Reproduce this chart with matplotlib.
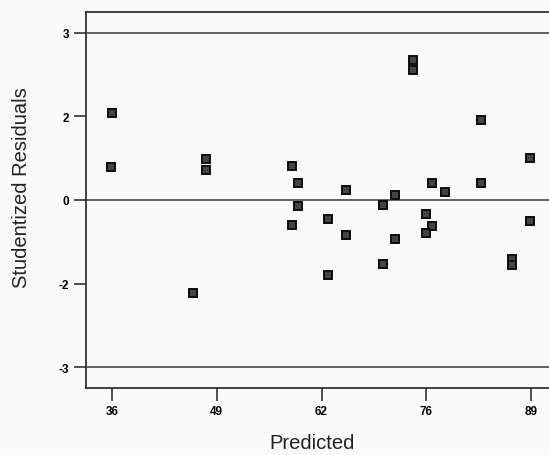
import matplotlib.pyplot as plt
import numpy as np

plt.rcParams['font.family'] = ['Liberation Sans', 'DejaVu Sans']

# predicted values and studentized residuals for each run
predicted = np.array([
    35.86, 35.77, 47.71, 47.71, 46.14, 58.54, 59.30, 65.42, 59.30, 63.08,
    58.54, 65.42, 63.08, 73.86, 73.86, 76.26, 77.82, 71.60, 70.01, 75.43,
    76.26, 75.43, 71.60, 70.01, 82.39, 88.61, 82.36, 88.61, 86.26, 86.26])
residuals = np.array([
    1.555, 0.600, 0.738, 0.541, -1.675, 0.613, 0.308, 0.176, -0.111, -0.344,
    -0.444, -0.623, -1.347, 2.517, 2.325, 0.308, 0.140, 0.081, -0.081, -0.254,
    -0.469, -0.587, -0.695, -1.150, 1.442, 0.761, 0.308, -0.373, -1.066, -1.168])

xticks = [35.9, 49.1, 62.3, 75.5, 88.7]
xtick_labels = ['36', '49', '62', '76', '89']
yticks = [-3, -1.5, 0, 1.5, 3]
ytick_labels = ['-3', '-2', '0', '2', '3']
limits = [-3, 0, 3]

fig = plt.figure(figsize=(5.49, 4.56), dpi=100, facecolor='#fafafa')
ax = fig.add_axes([86 / 549, 67 / 456, 474 / 549, 376 / 456])
ax.set_facecolor('#fafafa')

for v in limits:
    ax.axhline(v, color='#3a3a3a', lw=1.1, zorder=1)

ax.plot(predicted, residuals, 's', ms=6, mfc='#444444', mec='#0d0d0d',
        mew=1.4, zorder=3)

ax.set_xlim(32.62, 92.35)
ax.set_ylim(-3.37, 3.37)
ax.set_xticks(xticks)
ax.set_xticklabels(xtick_labels)
ax.set_yticks(yticks)
ax.set_yticklabels(ytick_labels)
ax.tick_params(direction='out', length=9, width=1.1, color='#222222',
               labelsize=8.5, pad=3)
for lbl in ax.get_xticklabels() + ax.get_yticklabels():
    lbl.set_fontweight('bold')

for s in ax.spines.values():
    s.set_linewidth(1.2)
    s.set_color('#222222')

fig.text(22 / 549, 1 - 188 / 456, 'Studentized Residuals', rotation=90,
         ha='center', va='center', fontsize=14.5, color='#222222')
fig.text(312 / 549, 1 - 444 / 456, 'Predicted', ha='center', va='center',
         fontsize=14.5, color='#222222')

fig.savefig('out.png', dpi=100, facecolor=fig.get_facecolor())
